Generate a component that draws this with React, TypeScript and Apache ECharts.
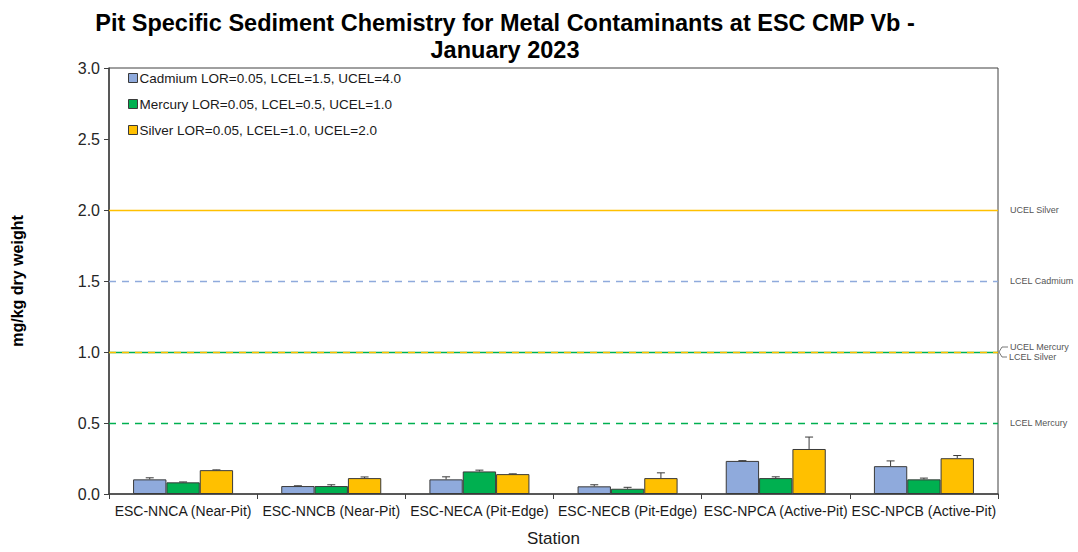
import React, { useEffect, useRef } from "react";
import * as echarts from "echarts";

const categories = [
  "ESC-NNCA (Near-Pit)",
  "ESC-NNCB (Near-Pit)",
  "ESC-NECA (Pit-Edge)",
  "ESC-NECB (Pit-Edge)",
  "ESC-NPCA (Active-Pit)",
  "ESC-NPCB (Active-Pit)",
];
const seriesNames = [
  "Cadmium LOR=0.05, LCEL=1.5, UCEL=4.0",
  "Mercury LOR=0.05, LCEL=0.5, UCEL=1.0",
  "Silver LOR=0.05, LCEL=1.0, UCEL=2.0",
];
const cadmium = [0.103, 0.056, 0.103, 0.054, 0.233, 0.196];
const cadmiumErr = [0.011, 0.002, 0.018, 0.011, 0.002, 0.037];
const mercury = [0.082, 0.056, 0.159, 0.037, 0.112, 0.103];
const mercuryErr = [0.003, 0.009, 0.009, 0.01, 0.009, 0.009];
const silver = [0.168, 0.112, 0.14, 0.112, 0.317, 0.252];
const silverErr = [0.002, 0.008, 0.002, 0.037, 0.084, 0.019];
const colors = ["#8FAADC", "#00B050", "#FFC000"];

const thresholds = [
  { name: "UCEL Silver", value: 2.0, color: "#FFC000", type: "solid" },
  { name: "LCEL Cadmium", value: 1.5, color: "#8FAADC", type: "dashed" },
  { name: "UCEL Mercury", value: 1.0, color: "#00B050", type: "solid" },
  { name: "LCEL Silver", value: 1.0, color: "#FFC000", type: "dashed" },
  { name: "LCEL Mercury", value: 0.5, color: "#00B050", type: "dashed" },
];

const yTicks = [0, 0.5, 1.0, 1.5, 2.0, 2.5, 3.0];

const BAR_FRAC = 0.225;

export default function App() {
  const ref = useRef<HTMLDivElement>(null);
  useEffect(() => {
    if (!ref.current) return;
    const chart = echarts.init(ref.current, undefined, { renderer: "svg" });
    const values = [cadmium, mercury, silver];
    const errs = [cadmiumErr, mercuryErr, silverErr];
    const font = "Liberation Sans, Arial, sans-serif";

    const barSeries = values.map((v, i) => ({
      type: "bar",
      name: seriesNames[i],
      data: v,
      barWidth: BAR_FRAC * 100 + "%",
      barGap: "0%",
      itemStyle: { color: colors[i], borderColor: "#3a3a3a", borderWidth: 1 },
      z: 2,
      markLine:
        i === 0
          ? {
              silent: true,
              symbol: "none",
              label: { show: false },
              data: thresholds.map((t) => ({
                yAxis: t.value,
                lineStyle: { color: t.color, type: t.type === "dashed" ? [7, 6] : "solid", width: 1.4 },
              })),
            }
          : undefined,
    }));

    const errSeries = values.map((v, i) => ({
      type: "custom",
      name: "err" + i,
      z: 3,
      data: v.map((val, k) => [k, val, val + errs[i][k]]),
      renderItem: (params: any, api: any) => {
        const k = api.value(0);
        const bw = api.size([1, 0])[0];
        const off = (i - 1) * bw * BAR_FRAC;
        const p0 = api.coord([k, api.value(1)]);
        const p1 = api.coord([k, api.value(2)]);
        const x = p0[0] + off;
        return {
          type: "group",
          children: [
            { type: "line", shape: { x1: x, y1: p0[1], x2: x, y2: p1[1] }, style: { stroke: "#3a3a3a", lineWidth: 1 } },
            { type: "line", shape: { x1: x - 4, y1: p1[1], x2: x + 4, y2: p1[1] }, style: { stroke: "#3a3a3a", lineWidth: 1 } },
          ],
        };
      },
    }));

    chart.setOption({
      animation: false,
      textStyle: { fontFamily: font },
      title: {
        text: "Pit Specific Sediment Chemistry for Metal Contaminants at ESC CMP Vb -\nJanuary 2023",
        left: 500,
        textAlign: "center",
        top: 4,
        textStyle: {
          fontFamily: font,
          fontSize: 23.5,
          fontWeight: "bold",
          color: "#000",
          lineHeight: 27,
        },
      },
      legend: {
        data: seriesNames,
        orient: "vertical",
        left: 128,
        top: 71,
        padding: 0,
        itemWidth: 9,
        itemHeight: 9,
        itemGap: 12,
        icon: "rect",
        itemStyle: { borderColor: "#3a3a3a", borderWidth: 1 },
        textStyle: { fontSize: 13.5, color: "#1a1a1a", fontFamily: font, padding: [0, 0, 0, -3] },
      },
      grid: {
        left: 109,
        right: 80,
        top: 68,
        bottom: 55,
        show: true,
        borderColor: "#404040",
        borderWidth: 1,
      },
      xAxis: {
        type: "category",
        data: categories,
        name: "Station",
        nameLocation: "middle",
        nameGap: 36,
        nameTextStyle: { fontSize: 17, color: "#1a1a1a", fontFamily: font },
        axisLine: { lineStyle: { color: "#404040", width: 1.5 } },
        axisTick: { show: true, alignWithLabel: false, length: 5, lineStyle: { color: "#404040" } },
        axisLabel: { fontSize: 14, color: "#1a1a1a", margin: 10, interval: 0, fontFamily: font },
      },
      yAxis: {
        type: "value",
        min: 0,
        max: 3,
        interval: 0.5,
        name: "mg/kg dry weight",
        nameLocation: "middle",
        nameGap: 84,
        nameTextStyle: { fontSize: 16, fontWeight: "bold", color: "#000", fontFamily: font },
        axisLine: { show: true, lineStyle: { color: "#404040", width: 1.5 } },
        axisTick: { show: true, length: 5, lineStyle: { color: "#404040" } },
        axisLabel: {
          fontSize: 16,
          color: "#262626",
          margin: 9,
          formatter: (v: number) => (yTicks.includes(v) ? v.toFixed(1) : ""),
        },
        splitLine: { show: false },
      },
      series: [...barSeries, ...errSeries],
    });

    const px = (v: number) => chart.convertToPixel({ yAxisIndex: 0 }, v) as number;
    const lx = 1010;
    const labelStyle = { fill: "#555", fontSize: 9, fontFamily: font };
    const graphics: any[] = [];
    const ySilverU = px(2.0);
    const yCadL = px(1.5);
    const y1 = px(1.0);
    const yMerL = px(0.5);
    graphics.push({ type: "text", x: lx, y: ySilverU, style: { ...labelStyle, text: "UCEL Silver", verticalAlign: "middle" } });
    graphics.push({ type: "text", x: lx, y: yCadL, style: { ...labelStyle, text: "LCEL Cadmium", verticalAlign: "middle" } });
    graphics.push({ type: "text", x: lx, y: yMerL, style: { ...labelStyle, text: "LCEL Mercury", verticalAlign: "middle" } });
    graphics.push({ type: "text", x: lx, y: y1 - 5, style: { ...labelStyle, text: "UCEL Mercury", verticalAlign: "middle" } });
    graphics.push({ type: "text", x: lx - 1, y: y1 + 5, style: { ...labelStyle, text: "LCEL Silver", verticalAlign: "middle" } });
    graphics.push({
      type: "polyline",
      shape: { points: [[1008, y1 - 5], [1002, y1 - 5], [999, y1]] },
      style: { stroke: "#555", lineWidth: 0.8, fill: "none" },
    });
    graphics.push({
      type: "polyline",
      shape: { points: [[1007, y1 + 5], [1002, y1 + 5], [999, y1]] },
      style: { stroke: "#555", lineWidth: 0.8, fill: "none" },
    });
    chart.setOption({ graphic: graphics });

    return () => chart.dispose();
  }, []);
  return <div ref={ref} style={{ position: "absolute", left: 0, top: 0, width: 1078, height: 552 }} />;
}
